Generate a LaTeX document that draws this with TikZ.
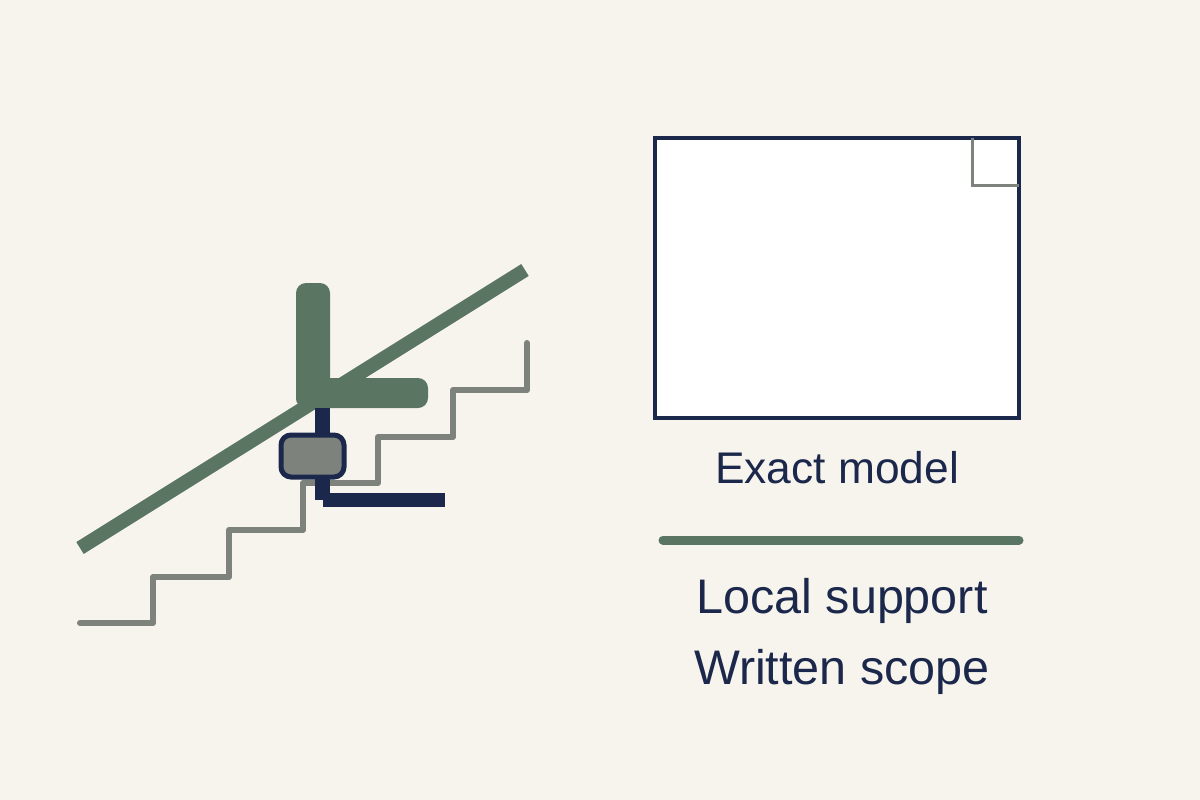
\documentclass[tikz,border=0pt]{standalone}
\usepackage{fontspec}
\setmainfont{Liberation Sans}
\usepackage{xcolor}
\definecolor{paper}{RGB}{247,244,238}
\definecolor{railgreen}{RGB}{90,118,99}
\definecolor{stairgrey}{RGB}{125,130,125}
\definecolor{navy}{RGB}{27,40,75}
\tikzset{
  stair/.style={line width=0.06cm, stairgrey, line cap=round, line join=round},
  rail/.style={line width=0.14cm, railgreen},
  label/.style={text=navy, font=\fontsize{13.8}{16}\selectfont}
}
\begin{document}
\begin{tikzpicture}[x=0.01cm, y=-0.01cm]
    \fill[paper] (0,0) rectangle (1200,800);
    \useasboundingbox (0,0) rectangle (1200,800);

    % stairs
    \coordinate (s0) at (80,623);
    \draw[stair] (s0) -- (153,623) -- (153,577) -- (229,577) -- (229,530)
        -- (303,530) -- (303,483) -- (378,483) -- (378,437) -- (453,437)
        -- (453,390) -- (527,390) -- (527,343);

    % rail
    \coordinate (r1) at (80,548);
    \coordinate (r2) at (525,270);
    \draw[rail] (r1) -- (r2);

    % chair
    \fill[railgreen, rounded corners=0.1cm] (296,283) rectangle (330,408);
    \fill[railgreen, rounded corners=0.1cm] (296,378) rectangle (428,408);
    \fill[navy] (315,408) rectangle (330,500);
    \fill[navy] (323,493) rectangle (445,507);
    \filldraw[fill=stairgrey, draw=navy, line width=0.05cm, rounded corners=0.1cm]
        (281,435) rectangle (344,477);

    % exact model
    \node[draw=navy, line width=0.04cm, fill=white, minimum width=3.64cm,
        minimum height=2.8cm, inner sep=0pt] (model) at (837,278) {};
    \draw[stairgrey, line width=0.03cm] (972,138) -- (972,185) -- (1019,185);
    \node[label, font=\fontsize{12.6}{15}\selectfont] (exact) at (837,468) {Exact model};

    % local support
    \coordinate (g1) at (663,540);
    \coordinate (g2) at (1019,540);
    \draw[railgreen, line width=0.09cm, line cap=round] (g1) -- (g2);
    \node[label] (local) at (842,601) {Local support};
    \node[label] (scope) at (842,672) {Written scope};
\end{tikzpicture}
\end{document}
